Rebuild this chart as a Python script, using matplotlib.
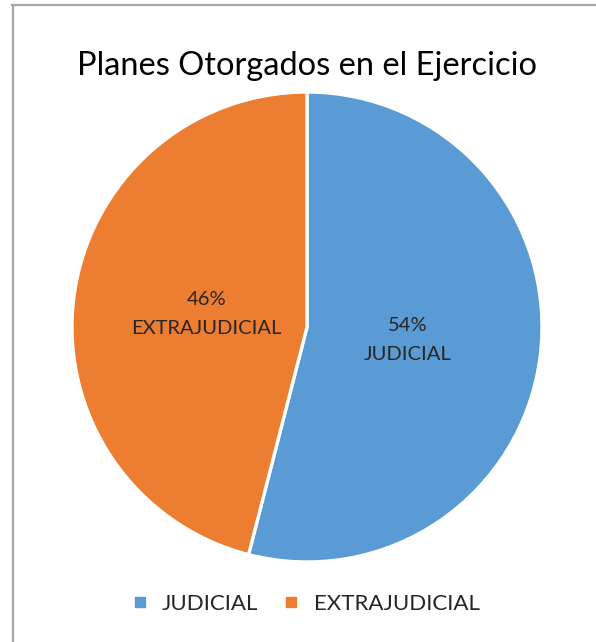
import matplotlib

matplotlib.use("Agg")
import matplotlib.pyplot as plt
from matplotlib.lines import Line2D

# data
categories = ["JUDICIAL", "EXTRAJUDICIAL"]
shares = [54, 46]
colors = ["#5B9BD5", "#ED7D31"]
title = "Planes Otorgados en el Ejercicio"

plt.rcParams["font.family"] = ["Lato", "DejaVu Sans"]

W, H = 596, 642
fig = plt.figure(figsize=(W / 100, H / 100), dpi=100)

# pie centred at (307, 327) px, radius ~235 px
cx, cy, r = 307, 327, 235
ax = fig.add_axes([(cx - r) / W, (H - cy - r) / H, 2 * r / W, 2 * r / H])
labels = [f"{v}%\n{c}" for c, v in zip(categories, shares)]
wedges, texts = ax.pie(
    shares,
    labels=labels,
    colors=colors,
    startangle=90,
    counterclock=False,
    labeldistance=0.43,
    wedgeprops=dict(edgecolor="white", linewidth=2.4),
)
for t in texts:
    t.set(ha="center", va="center", fontsize=14.5, color="#262626", linespacing=1.85)
ax.set_xlim(-1, 1)
ax.set_ylim(-1, 1)
ax.set_aspect("equal")

fig.text(cx / W, 1 - 66 / H, title, ha="center", va="center", fontsize=23.5, color="black")

handles = [Line2D([], [], marker="s", ls="", color=c, markersize=7.5) for c in colors]
fig.legend(
    handles,
    categories,
    loc="center",
    bbox_to_anchor=(304 / W, 1 - 604 / H),
    ncol=2,
    frameon=False,
    fontsize=16,
    handlelength=1.0,
    handletextpad=0.5,
    columnspacing=1.0,
    labelcolor="#262626",
)

# partial frame (left and top edges only)
fig.add_artist(Line2D([13 / W, 13 / W], [0, 1 - 5 / H], color="#A6A6A6", lw=1.6,
                      transform=fig.transFigure))
fig.add_artist(Line2D([12 / W, 1], [1 - 5 / H, 1 - 5 / H], color="#A6A6A6", lw=1.6,
                      transform=fig.transFigure))

fig.savefig("out.png", dpi=100, facecolor="white")
